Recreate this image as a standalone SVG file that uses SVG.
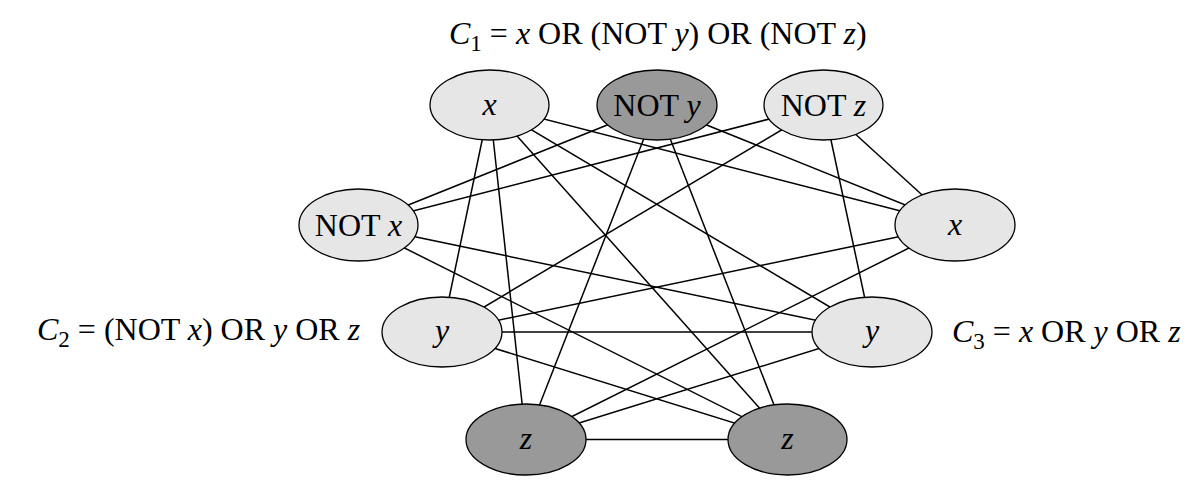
<svg xmlns="http://www.w3.org/2000/svg" width="1196" height="482" viewBox="0 0 1196 482">
<style>
  .edge { stroke: #000; stroke-width: 1.5; fill: none; }
  .light { fill: #e6e6e6; stroke: #000; stroke-width: 1.3; }
  .dark { fill: #999999; stroke: #000; stroke-width: 1.3; }
  text { font-family: "Liberation Serif", "Times New Roman", serif; font-size: 32px; fill: #000; }
  .lbl { text-anchor: middle; }
  .it { font-style: italic; }
  .sub { font-size: 23px; }
</style>
<rect width="1196" height="482" fill="#fff"/>
<g id="connectors">
  <line class="edge" x1="489.5" y1="105" x2="442" y2="332"/>
  <line class="edge" x1="489.5" y1="105" x2="526" y2="439.5"/>
  <line class="edge" x1="657" y1="105" x2="358.5" y2="225"/>
  <line class="edge" x1="657" y1="105" x2="526" y2="439.5"/>
  <line class="edge" x1="823.5" y1="105" x2="358.5" y2="225"/>
  <line class="edge" x1="823.5" y1="105" x2="442" y2="332"/>
  <line class="edge" x1="489.5" y1="105" x2="955" y2="225"/>
  <line class="edge" x1="489.5" y1="105" x2="872" y2="332"/>
  <line class="edge" x1="489.5" y1="105" x2="787.5" y2="439.5"/>
  <line class="edge" x1="657" y1="105" x2="955" y2="225"/>
  <line class="edge" x1="657" y1="105" x2="787.5" y2="439.5"/>
  <line class="edge" x1="823.5" y1="105" x2="955" y2="225"/>
  <line class="edge" x1="823.5" y1="105" x2="872" y2="332"/>
  <line class="edge" x1="358.5" y1="225" x2="872" y2="332"/>
  <line class="edge" x1="358.5" y1="225" x2="787.5" y2="439.5"/>
  <line class="edge" x1="442" y1="332" x2="955" y2="225"/>
  <line class="edge" x1="442" y1="332" x2="872" y2="332"/>
  <line class="edge" x1="442" y1="332" x2="787.5" y2="439.5"/>
  <line class="edge" x1="526" y1="439.5" x2="955" y2="225"/>
  <line class="edge" x1="526" y1="439.5" x2="872" y2="332"/>
  <line class="edge" x1="526" y1="439.5" x2="787.5" y2="439.5"/>
</g>
<g id="c1-x">
  <ellipse class="light" cx="489.5" cy="105" rx="59.5" ry="35"/>
  <text class="lbl it" x="489.5" y="115">x</text>
</g>
<g id="c1-not-y">
  <ellipse class="dark" cx="657" cy="105" rx="60" ry="35"/>
  <text class="lbl" x="657" y="116">NOT <tspan class="it">y</tspan></text>
</g>
<g id="c1-not-z">
  <ellipse class="light" cx="823.5" cy="105" rx="59.5" ry="35"/>
  <text class="lbl" x="823.5" y="116">NOT <tspan class="it">z</tspan></text>
</g>
<g id="c2-not-x">
  <ellipse class="light" cx="358.5" cy="225" rx="59.5" ry="36"/>
  <text class="lbl" x="358.5" y="236">NOT <tspan class="it">x</tspan></text>
</g>
<g id="c2-y">
  <ellipse class="light" cx="442" cy="332" rx="60" ry="35"/>
  <text class="lbl it" x="442" y="341">y</text>
</g>
<g id="c2-z">
  <ellipse class="dark" cx="526" cy="439.5" rx="60" ry="35.5"/>
  <text class="lbl it" x="526" y="449">z</text>
</g>
<g id="c3-x">
  <ellipse class="light" cx="955" cy="225" rx="60" ry="36"/>
  <text class="lbl it" x="955" y="235">x</text>
</g>
<g id="c3-y">
  <ellipse class="light" cx="872" cy="332" rx="60" ry="35"/>
  <text class="lbl it" x="872" y="341">y</text>
</g>
<g id="c3-z">
  <ellipse class="dark" cx="787.5" cy="439.5" rx="59.5" ry="35.5"/>
  <text class="lbl it" x="787.5" y="449">z</text>
</g>
<g id="clause-labels">
  <text x="449" y="44"><tspan class="it">C</tspan><tspan class="sub" dy="7">1</tspan><tspan dy="-7"> = </tspan><tspan class="it">x</tspan> OR (NOT <tspan class="it">y</tspan>) OR (NOT <tspan class="it">z</tspan>)</text>
  <text x="37" y="340"><tspan class="it">C</tspan><tspan class="sub" dy="7">2</tspan><tspan dy="-7"> = (NOT </tspan><tspan class="it">x</tspan>) OR <tspan class="it">y</tspan> OR <tspan class="it">z</tspan></text>
  <text x="952" y="342"><tspan class="it">C</tspan><tspan class="sub" dy="7">3</tspan><tspan dy="-7"> = </tspan><tspan class="it">x</tspan> OR <tspan class="it">y</tspan> OR <tspan class="it">z</tspan></text>
</g>
</svg>
